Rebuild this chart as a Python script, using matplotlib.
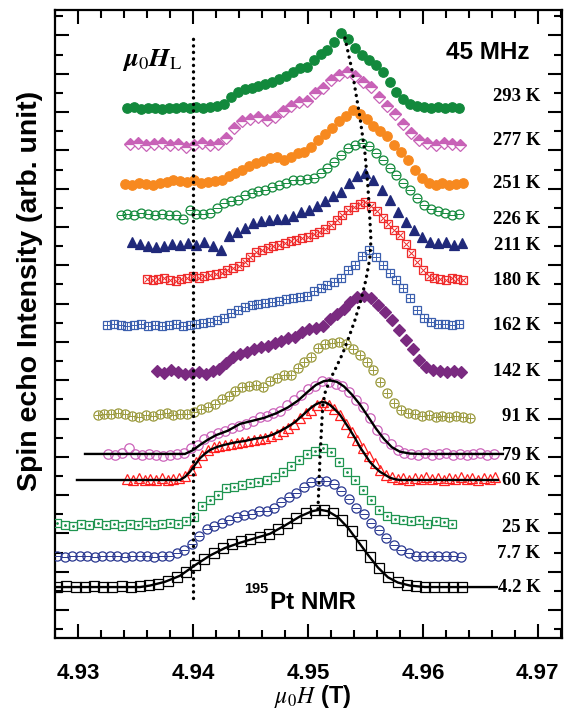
import numpy as np
import matplotlib.pyplot as plt
from matplotlib.ticker import MultipleLocator

# ---- data: 195Pt NMR field-swept spectra at 45 MHz ----
# each spectrum: start field (T), field step (T), normalised echo intensity
temps = ['293 K', '277 K', '251 K', '226 K', '211 K', '180 K', '162 K',
         '142 K', '91 K', '79 K', '60 K', '25 K', '7.7 K', '4.2 K']
offsets = [26.21, 24.33, 22.25, 20.68, 19.06, 17.28, 14.88,
           12.48, 10.13, 8.15, 6.79, 4.44, 2.80, 1.20]
field_start = [4.9343, 4.9345, 4.9341, 4.9337, 4.9347, 4.9360, 4.9325,
               4.9369, 4.9317, 4.9326, 4.9343, 4.9282, 4.9282, 4.9282]
field_step = [0.0006, 0.0007, 0.0006, 0.0006, 0.0007, 0.0005, 0.0006,
              0.0006, 0.0006, 0.0006, 0.0005, 0.0007, 0.00065, 0.0008]

i293 = [0, 0.01, -0.01, 0, 0, -0.01, 0, 0, 0.01, 0, 0.01, 0, 0.01, 0.03,
        0.05, 0.15, 0.21, 0.25, 0.27, 0.29, 0.32, 0.35, 0.39, 0.43, 0.48, 0.53,
        0.55, 0.64, 0.72, 0.77, 0.88, 1.00, 0.92, 0.80, 0.71, 0.64, 0.57, 0.48,
        0.35, 0.21, 0.12, 0.05, 0.03, 0.01, 0, 0.01, 0, 0.01, 0]
i277 = [0, 0.01, -0.01, 0, 0.01, -0.01, 0, -0.04, -0.01, 0.01, -0.01, 0,
        0.08, 0.21, 0.31, 0.33, 0.36, 0.32, 0.36, 0.44, 0.51, 0.56, 0.57, 0.68,
        0.75, 0.85, 0.92, 0.96, 0.91, 0.83, 0.76, 0.63, 0.51, 0.40, 0.27, 0.15,
        0.05, 0.01, -0.01, 0.01, 0, -0.01]
i251 = [0, -0.01, 0.01, 0, -0.01, 0.01, 0.03, 0.05, 0.04, 0.03,
        0.05, 0.01, 0.03, 0.04, 0.05, 0.11, 0.15, 0.19, 0.24, 0.28,
        0.31, 0.35, 0.36, 0.32, 0.36, 0.41, 0.43, 0.49, 0.59, 0.67,
        0.75, 0.84, 0.91, 0.99, 0.93, 0.87, 0.77, 0.71, 0.64, 0.52,
        0.43, 0.32, 0.19, 0.08, 0.01, -0.01, 0.01, -0.01, 0, 0.01]
i226 = [-0.01, 0, -0.01, 0.01, 0, -0.01, 0, -0.01, -0.01, -0.07, 0.05, 0, 0,
        0.01, 0.08, 0.15, 0.17, 0.19, 0.25, 0.28, 0.31, 0.32, 0.36, 0.39, 0.41,
        0.45, 0.45, 0.47, 0.48, 0.55, 0.61, 0.69, 0.79, 0.88, 0.92, 0.95, 0.91,
        0.81, 0.72, 0.61, 0.52, 0.41, 0.32, 0.21, 0.12, 0.07, 0.04, 0.01, -0.01, 0]
i211 = [0.04, 0.01, -0.01, -0.03, -0.01, 0.01, 0, 0.03, 0, 0.04, -0.01, -0.07,
        0.12, 0.17, 0.23, 0.29, 0.32, 0.33, 0.35, 0.35, 0.39, 0.44, 0.47, 0.52,
        0.59, 0.65, 0.71, 0.83, 0.92, 0.96, 0.87, 0.73, 0.60, 0.44, 0.31, 0.20,
        0.11, 0.04, 0.03, 0.04, 0, 0.03]
i180 = [0, -0.01, 0, 0.01, -0.01, -0.03, 0, 0.01,
        0.04, 0.01, 0.04, 0.05, 0.07, 0.08, 0.12, 0.15, 0.17, 0.23,
        0.29, 0.36, 0.39, 0.41, 0.44, 0.45, 0.48, 0.51, 0.52, 0.55,
        0.56, 0.60, 0.63, 0.67, 0.72, 0.79, 0.85, 0.92, 0.96, 1.00,
        1.03, 0.97, 0.91, 0.81, 0.73, 0.65, 0.59, 0.47, 0.35, 0.23,
        0.12, 0.04, 0.01, 0, -0.01, 0.01, 0, -0.01]
i162 = [0, 0.01, 0, -0.01, 0, 0.01, -0.01, 0, -0.01, 0, 0.01, -0.01, 0, 0.01,
        0.03, 0.04, 0.07, 0.09, 0.16, 0.20, 0.24, 0.27, 0.28, 0.29, 0.31, 0.32,
        0.35, 0.36, 0.37, 0.39, 0.45, 0.49, 0.53, 0.57, 0.63, 0.73, 0.80, 0.92,
        1.00, 0.91, 0.80, 0.69, 0.60, 0.49, 0.36, 0.20, 0.09, 0.04, 0.01, 0.01,
        0, 0.01]
i142 = [0, -0.03, 0.01, -0.01, -0.04, -0.03, -0.01, -0.04, 0, 0.03,
        0.11, 0.19, 0.23, 0.25, 0.29, 0.32, 0.33, 0.37, 0.40, 0.44,
        0.45, 0.52, 0.56, 0.57, 0.60, 0.69, 0.76, 0.83, 0.92, 0.99,
        1.00, 0.97, 0.88, 0.79, 0.68, 0.55, 0.41, 0.29, 0.15, 0.05,
        0.01, 0, -0.01, 0, -0.01]
i91 = [0.01, 0.03, 0.03, 0.04, 0.03, 0, -0.01, 0.01, 0, 0.03, 0.04, 0.01,
       0.03, 0.03, 0.05, 0.09, 0.12, 0.16, 0.23, 0.27, 0.33, 0.39, 0.40, 0.41,
       0.39, 0.47, 0.51, 0.55, 0.55, 0.64, 0.72, 0.79, 0.91, 0.96, 0.97, 0.99,
       0.96, 0.89, 0.81, 0.72, 0.61, 0.45, 0.31, 0.17, 0.08, 0.04, 0.03, 0,
       0.01, -0.01, 0, -0.01, 0, -0.01, -0.03]
i79 = [0, -0.01, 0.01, 0.08, 0, -0.01, 0, -0.01, -0.03, -0.01,
       0, 0.01, 0.08, 0.12, 0.20, 0.24, 0.28, 0.31, 0.35, 0.37,
       0.40, 0.44, 0.49, 0.51, 0.55, 0.57, 0.65, 0.72, 0.79, 0.87,
       0.91, 0.97, 0.96, 0.93, 0.91, 0.83, 0.72, 0.63, 0.48, 0.32,
       0.21, 0.13, 0.05, 0.01, 0, -0.01, 0.01, -0.01, 0, 0.01,
       -0.01, 0, -0.01, 0, 0.01, -0.01, 0]
i60 = [0.01, 0, 0.03, 0, 0.01, 0, 0.03, 0, 0.01, 0.03, 0.05,
       0.13, 0.24, 0.33, 0.40, 0.44, 0.45, 0.47, 0.48, 0.49, 0.51,
       0.52, 0.53, 0.55, 0.56, 0.59, 0.61, 0.65, 0.69, 0.75, 0.83,
       0.89, 0.93, 1.00, 1.04, 1.00, 0.95, 0.87, 0.75, 0.64, 0.53,
       0.43, 0.32, 0.23, 0.13, 0.07, 0.04, 0.01, 0.03, 0, 0.03,
       0.01, 0.04, 0.01, 0.03, 0, 0.03, 0.01, 0.04, 0.01, 0.03,
       0, 0.03, 0.01, 0.04]
i25 = [0.03, 0, -0.01, 0.01, 0, 0.03, 0, 0.01, -0.01, 0.01, 0, 0.04, 0, 0.01,
       0.03, 0.01, 0.05, 0.11, 0.25, 0.33, 0.40, 0.49, 0.51, 0.53, 0.56, 0.57,
       0.60, 0.64, 0.71, 0.79, 0.87, 0.95, 0.99, 1.03, 0.97, 0.84, 0.71, 0.60,
       0.47, 0.33, 0.20, 0.12, 0.08, 0.07, 0.05, 0.07, 0.01, 0.05, 0.04, 0.01]
i7p7 = [0, -0.01, 0, 0.01, 0, -0.01, 0, 0.01, 0, -0.01, 0, 0.01, 0, -0.01,
        0, 0.01, 0.05, 0.09, 0.17, 0.27, 0.36, 0.41, 0.44, 0.49, 0.52, 0.55,
        0.57, 0.60, 0.61, 0.64, 0.72, 0.79, 0.85, 0.92, 0.99, 1.01, 1.00, 0.96,
        0.87, 0.76, 0.65, 0.56, 0.45, 0.35, 0.24, 0.15, 0.08, 0.04, 0.01, 0,
        0.01, 0, 0.01, 0, -0.01]
i4p2 = [0, 0.01, 0, 0, 0.01, 0, 0, 0.01, 0, 0.01,
        0.03, 0.04, 0.08, 0.13, 0.20, 0.29, 0.37, 0.45, 0.52, 0.57,
        0.61, 0.64, 0.67, 0.71, 0.77, 0.85, 0.92, 0.99, 1.03, 1.03,
        0.99, 0.89, 0.75, 0.56, 0.40, 0.25, 0.13, 0.07, 0.03, 0.01,
        0, 0, 0, 0, 0]
intensities = [i293, i277, i251, i226, i211, i180, i162,
               i142, i91, i79, i60, i25, i7p7, i4p2]

# fitted line shapes for 79 K, 60 K and 4.2 K
fit79_h = [4.93061, 4.93930, 4.94000, 4.94061, 4.94130, 4.94200, 4.94304,
           4.94409, 4.94513, 4.94617, 4.94722, 4.94826, 4.94913, 4.95000,
           4.95070, 4.95139, 4.95191, 4.95252, 4.95313, 4.95383, 4.95452,
           4.95522, 4.95591, 4.95661, 4.95730, 4.95800, 4.95887, 4.95974, 4.96696]
fit79_i = [0, 0, 0.05, 0.12, 0.19, 0.25, 0.31, 0.40, 0.44, 0.48, 0.54, 0.62,
           0.71, 0.83, 0.92, 0.97, 0.98, 0.96, 0.90, 0.79, 0.66, 0.50, 0.34,
           0.20, 0.09, 0.03, 0.005, 0, 0]
fit60_h = [4.92991, 4.93887, 4.93930, 4.93974, 4.94017, 4.94061, 4.94104,
           4.94148, 4.94209, 4.94278, 4.94365, 4.94452, 4.94539, 4.94626,
           4.94687, 4.94757, 4.94826, 4.94887, 4.94930, 4.94974, 4.95017,
           4.95061, 4.95087, 4.95122, 4.95157, 4.95191, 4.95235, 4.95278,
           4.95322, 4.95365, 4.95409, 4.95452, 4.95496, 4.95539, 4.95583,
           4.95626, 4.95670, 4.95713, 4.95757, 4.95800, 4.96652]
fit60_i = [0, 0, 0.04, 0.11, 0.20, 0.29, 0.35, 0.40, 0.44, 0.47,
           0.50, 0.52, 0.55, 0.57, 0.60, 0.65, 0.71, 0.77, 0.83, 0.89,
           0.95, 1.00, 1.02, 1.04, 1.03, 1.00, 0.94, 0.87, 0.77, 0.67,
           0.56, 0.44, 0.34, 0.24, 0.17, 0.11, 0.07, 0.03, 0.01, 0, 0]
fit4_h = [4.92800, 4.93539, 4.93626, 4.93757, 4.93887, 4.94017, 4.94148,
          4.94278, 4.94409, 4.94539, 4.94670, 4.94800, 4.94930, 4.95035,
          4.95104, 4.95174, 4.95261, 4.95348, 4.95435, 4.95522, 4.95609,
          4.95696, 4.95783, 4.95887, 4.96017, 4.96643]
fit4_i = [0, 0, 0.02, 0.07, 0.15, 0.29, 0.42, 0.52, 0.59, 0.65, 0.71, 0.82,
          0.94, 1.01, 1.03, 1.01, 0.93, 0.79, 0.61, 0.43, 0.26, 0.13, 0.06,
          0.02, 0, 0]

# peak position trace (dotted guide)
peak_h = [4.95322, 4.95383, 4.95452, 4.95496, 4.95522, 4.95539, 4.95548,
          4.95539, 4.95504, 4.95461, 4.95409, 4.95357, 4.95304, 4.95243,
          4.95191, 4.95148, 4.95130, 4.95122, 4.95104, 4.95087]
peak_y = [29.87, 28.20, 25.74, 23.86, 22.09, 20.37, 19.32, 18.38, 17.23,
          16.19, 15.14, 14.26, 13.42, 12.64, 12.01, 11.33, 10.70, 9.92,
          7.83, 5.22]
larmor_field = 4.94

AMP = 3.92  # height of a normalised spectrum in axis units

# ---- styles ----
styles = [
    dict(marker='o', color='#12893c', mfc='#12893c', ms=6.8),
    dict(marker='D', color='#c862b7', mfc='#c862b7', ms=6.0, fillstyle='top', mfcalt='white'),
    dict(marker='o', color='#f7891f', mfc='#f7891f', ms=6.8),
    dict(marker='o', color='#138a3c', mfc='none', ms=6.4, over='_'),
    dict(marker='^', color='#20297a', mfc='#20297a', ms=7.2),
    dict(marker='s', color='#ef2b2b', mfc='none', ms=5.4, over='x'),
    dict(marker='s', color='#3b5fae', mfc='none', ms=6.0, over='+'),
    dict(marker='D', color='#7a2a80', mfc='#7a2a80', ms=6.4),
    dict(marker='o', color='#9b9a3e', mfc='none', ms=6.6, over='+'),
    dict(marker='o', color='#cc63ba', mfc='none', ms=6.8),
    dict(marker='^', color='#ff1f1f', mfc='none', ms=6.6),
    dict(marker='s', color='#1f9550', mfc='none', ms=6.2, over='.'),
    dict(marker='o', color='#2a3891', mfc='none', ms=6.6, over='_'),
    dict(marker='s', color='black', mfc='none', ms=6.8),
]
label_y = [26.80, 24.54, 22.25, 20.37, 19.01, 17.23, 14.88,
           12.43, 10.08, 8.09, 6.74, 4.33, 2.97, 1.20]

sans = 'Liberation Sans'
serif = 'Liberation Serif'

fig = plt.figure(figsize=(5.7, 7.13), dpi=100)
ax = fig.add_axes([55 / 570, 1 - 638 / 713, 507 / 570, 628 / 713])

for lab, off, h0, dh, vals, st in zip(temps, offsets, field_start, field_step,
                                      intensities, styles):
    h = h0 + dh * np.arange(len(vals))
    y = off + AMP * np.array(vals)
    kw = dict(linestyle='none', marker=st['marker'], ms=st['ms'],
              mec=st['color'], mew=0.9, mfc=st['mfc'])
    if 'fillstyle' in st:
        kw['fillstyle'] = st['fillstyle']
        kw['markerfacecoloralt'] = st['mfcalt']
    ax.plot(h, y, **kw, zorder=3)
    if 'over' in st:
        ms_over = 2.5 if st['over'] == '.' else st['ms'] * 0.9
        ax.plot(h, y, linestyle='none', marker=st['over'], ms=ms_over,
                mec=st['color'], mfc=st['color'], mew=0.7, zorder=3)

for fh, fi, off in [(fit79_h, fit79_i, offsets[9]), (fit60_h, fit60_i, offsets[10]),
                    (fit4_h, fit4_i, offsets[13])]:
    ax.plot(fh, off + AMP * np.array(fi), color='black', lw=1.7, zorder=4)

dot = dict(color='black', lw=2.4, linestyle=(0, (0.05, 1.9)),
           dash_capstyle='round', zorder=5)
ax.plot([larmor_field, larmor_field], [0.63, 30.13], **dot)
ax.plot(peak_h, peak_y, **dot)

for lab, ly in zip(temps, label_y):
    ax.text(4.9702, ly, lab, ha='right', va='center', family=serif,
            fontweight='bold', fontsize=13.5)

ax.text(4.9656, 29.09, '45 MHz', ha='center', va='center', family=sans,
        fontweight='bold', fontsize=17.5)
ax.text(4.9467, 0.37, 'Pt NMR', ha='left', va='center', family=sans,
        fontweight='bold', fontsize=17.5)
ax.text(4.9466, 1.12, '195', ha='right', va='center', family=sans,
        fontweight='bold', fontsize=10.5)
ax.text(4.9391, 28.72, r'$\mathbfit{\mu}_{0}\mathbfit{H}_{\mathrm{L}}$',
        ha='right', va='center', fontsize=19, math_fontfamily='stix')

ax.set_xlim(4.928, 4.9721)
ax.set_ylim(-1.46, 31.33)
ax.xaxis.set_major_locator(MultipleLocator(0.01))
ax.xaxis.set_minor_locator(MultipleLocator(0.002))
ax.yaxis.set_major_locator(MultipleLocator(2))
ax.yaxis.set_minor_locator(MultipleLocator(1))
ax.tick_params(which='both', direction='in', top=True, right=True, width=1.5)
ax.tick_params(which='major', length=10)
ax.tick_params(which='minor', length=5.5)
ax.tick_params(axis='x', pad=18)
ax.set_yticklabels([])
ax.set_xticks([4.93, 4.94, 4.95, 4.96, 4.97])
ax.set_xticklabels(['4.93', '4.94', '4.95', '4.96', '4.97'], family=sans,
                   fontweight='bold', fontsize=16)
for sp in ax.spines.values():
    sp.set_linewidth(1.6)

fig.text(313 / 570, 1 - 697 / 713, r'$\mu_{0}H$ (T)', ha='center', va='center',
         family=sans, fontweight='bold', fontsize=17, math_fontfamily='stix')
fig.text(30 / 570, 1 - 291 / 713, 'Spin echo Intensity (arb. unit)', rotation=90,
         ha='center', va='center', family=sans, fontweight='bold', fontsize=20.5)

fig.savefig('out.png', dpi=100)
